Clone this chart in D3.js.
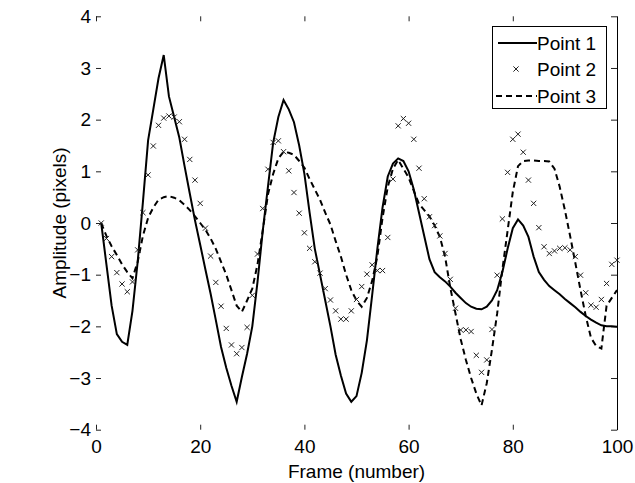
<!DOCTYPE html>
<html>
<head>
<meta charset="utf-8">
<script src="https://cdn.jsdelivr.net/npm/d3@7"></script>
<style>
  body { margin: 0; background: #fff; }
  text { font-family: "Liberation Sans", Arial, Helvetica, sans-serif; }
</style>
</head>
<body>
<svg id="chart" width="635" height="483"></svg>
<script>
// frame numbers and amplitudes (pixels)
const frames = d3.range(1, 101)

const point1 = [
    0, -0.8, -1.6, -2.15, -2.3, -2.36, -1.7, -0.75, 0.4, 1.6,
    2.2, 2.8, 3.25, 2.45, 2.05, 1.65, 1.1, 0.57, 0.05, -0.42,
    -0.9, -1.37, -1.88, -2.4, -2.8, -3.15, -3.46, -2.98, -2.53, -2.0,
    -1.14, -0.16, 0.7, 1.55, 2.05, 2.38, 2.2, 1.95, 1.5, 0.95,
    0.2, -0.5, -1.0, -1.5, -2.0, -2.55, -2.95, -3.3, -3.46, -3.35,
    -2.9, -2.27, -1.4, -0.5, 0.3, 0.9, 1.15, 1.25, 1.2, 1.0,
    0.65, 0.2, -0.25, -0.7, -0.95, -1.05, -1.13, -1.23, -1.35, -1.45,
    -1.55, -1.62, -1.66, -1.67, -1.62, -1.5, -1.3, -0.95, -0.5, -0.1,
    0.07, -0.05, -0.27, -0.65, -0.95, -1.1, -1.22, -1.3, -1.38, -1.47,
    -1.55, -1.63, -1.72, -1.8, -1.87, -1.93, -1.98, -2.0, -2.0, -2.01
]

const point2 = [
    0, -0.3, -0.65, -0.96, -1.18, -1.33, -1.14, -0.52, 0.2, 0.93,
    1.49, 1.89, 2.03, 2.07, 2.05, 1.96, 1.62, 1.23, 0.83, 0.38,
    -0.1, -0.64, -1.15, -1.61, -2.04, -2.36, -2.53, -2.41, -2.02, -1.4,
    -0.6, 0.28, 1.04, 1.56, 1.59, 1.38, 1.01, 0.59, 0.19, -0.19,
    -0.49, -0.75, -0.97, -1.27, -1.49, -1.7, -1.86, -1.86, -1.7, -1.48,
    -1.23, -0.99, -0.81, -0.92, -0.92, -0.28, 0.85, 1.88, 2.02, 1.93,
    1.62, 1.06, 0.47, 0.12, -0.05, -0.25, -0.59, -1.09, -1.65, -2.07,
    -2.07, -2.1, -2.56, -2.89, -2.65, -2.06, -1.01, 0.08, 0.98, 1.62,
    1.72, 1.37, 0.83, 0.38, -0.09, -0.46, -0.59, -0.54, -0.49, -0.48,
    -0.52, -0.65, -1.01, -1.35, -1.59, -1.63, -1.48, -1.17, -0.8, -0.72
]

const point3 = [
    0, -0.25, -0.45, -0.62, -0.8, -0.95, -1.07, -0.75, -0.25, 0.1,
    0.3, 0.45, 0.5, 0.52, 0.49, 0.44, 0.35, 0.25, 0.13, 0.0,
    -0.13, -0.3, -0.5, -0.75, -1.0, -1.3, -1.6, -1.72, -1.5, -1.27,
    -0.8, -0.15, 0.55, 0.95, 1.25, 1.38, 1.36, 1.32, 1.2, 1.07,
    0.85, 0.65, 0.45, 0.2, -0.03, -0.35, -0.65, -1.0, -1.3, -1.5,
    -1.62, -1.45, -1.12, -0.65, 0.1, 0.7, 1.05, 1.22, 1.05, 0.88,
    0.62, 0.37, 0.25, 0.13, -0.05, -0.27, -0.65, -1.25, -1.75, -2.25,
    -2.65, -3.0, -3.3, -3.53, -3.1, -2.45, -1.75, -0.9, -0.15, 0.6,
    1.1, 1.2, 1.21, 1.21, 1.2, 1.2, 1.19, 1.05, 0.7, 0.25,
    -0.25, -0.77, -1.3, -1.8, -2.22, -2.38, -2.43, -1.6, -1.45, -1.3
]

const seriesNames = ['Point 1', 'Point 2', 'Point 3']
const xTicks = [0, 20, 40, 60, 80, 100]
const yTicks = [-4, -3, -2, -1, 0, 1, 2, 3, 4]

const plot = { left: 96, right: 617, top: 16.3, bottom: 429.7 }
const fontSize = '19px'

const svg = d3.select('#chart')

const x = d3.scaleLinear().domain([0, 100]).range([plot.left, plot.right])
const y = d3.scaleLinear().domain([-4, 4]).range([plot.bottom, plot.top])

function toPoints(values) {
    return frames.map(function (f, i) { return { f: f, v: values[i] } })
}

function styleAxis(g) {
    g.selectAll('.tick line').attr('stroke', '#222').attr('stroke-width', 1)
    g.selectAll('.tick text')
        .attr('fill', '#000')
        .style('font-size', fontSize)
        .style('font-family', '"Liberation Sans", Arial, sans-serif')
}

// bottom axis with labels, ticks inside
const gx = svg.append('g')
    .attr('transform', 'translate(0,' + plot.bottom + ')')
    .call(d3.axisBottom(x).tickValues(xTicks).tickSizeInner(-5).tickSizeOuter(0).tickPadding(10))
gx.select('.domain').remove()
styleAxis(gx)

// top ticks only
const gxTop = svg.append('g')
    .attr('transform', 'translate(0,' + plot.top + ')')
    .call(d3.axisTop(x).tickValues(xTicks).tickSizeInner(-5).tickSizeOuter(0).tickFormat(''))
gxTop.select('.domain').remove()
styleAxis(gxTop)

// left axis with labels
const gy = svg.append('g')
    .attr('transform', 'translate(' + plot.left + ',0)')
    .call(d3.axisLeft(y).tickValues(yTicks).tickSizeInner(-5).tickSizeOuter(0).tickPadding(5))
gy.select('.domain').remove()
styleAxis(gy)

// right spine
const gyRight = svg.append('g')
    .attr('transform', 'translate(' + plot.right + ',0)')
    .call(d3.axisRight(y).tickValues(yTicks).tickSizeInner(-6).tickSizeOuter(0).tickFormat(''))
gyRight.select('.domain').attr('stroke', '#000').attr('stroke-width', 1)
styleAxis(gyRight)

// axis titles
svg.append('text')
    .attr('x', (plot.left + plot.right) / 2)
    .attr('y', 478)
    .attr('text-anchor', 'middle')
    .style('font-size', fontSize)
    .text('Frame (number)')

svg.append('text')
    .attr('transform', 'translate(66,' + (plot.top + plot.bottom) / 2 + ') rotate(-90)')
    .attr('text-anchor', 'middle')
    .style('font-size', fontSize)
    .text('Amplitude (pixels)')

const line = d3.line()
    .x(function (d) { return x(d.f) })
    .y(function (d) { return y(d.v) })

// Point 3, dashed
svg.append('path')
    .datum(toPoints(point3))
    .attr('fill', 'none')
    .attr('stroke', '#000')
    .attr('stroke-width', 2)
    .attr('stroke-dasharray', '6,4')
    .attr('d', line)

// Point 1, solid
svg.append('path')
    .datum(toPoints(point1))
    .attr('fill', 'none')
    .attr('stroke', '#000')
    .attr('stroke-width', 2)
    .attr('d', line)

// Point 2, x markers
const s = 2.6
svg.append('g')
    .selectAll('path')
    .data(toPoints(point2))
    .join('path')
    .attr('fill', 'none')
    .attr('stroke', '#222')
    .attr('stroke-width', 1)
    .attr('d', function (d) {
        const cx = x(d.f), cy = y(d.v)
        return 'M' + (cx - s) + ',' + (cy - s) + 'L' + (cx + s) + ',' + (cy + s) +
            'M' + (cx - s) + ',' + (cy + s) + 'L' + (cx + s) + ',' + (cy - s)
    })

// legend
const legend = svg.append('g').attr('transform', 'translate(492,26)')
legend.append('rect')
    .attr('x', 0.5).attr('y', 0.5)
    .attr('width', 114).attr('height', 82)
    .attr('fill', '#fff')
    .attr('stroke', '#000')
    .attr('stroke-width', 1)

const rowY = [17, 43, 70]
seriesNames.forEach(function (name, i) {
    const row = legend.append('g').attr('transform', 'translate(0,' + rowY[i] + ')')
    if (i === 0) {
        row.append('line').attr('x1', 6).attr('x2', 45).attr('stroke', '#000').attr('stroke-width', 2)
    } else if (i === 1) {
        row.append('path')
            .attr('d', 'M' + (24 - s) + ',' + (-s) + 'L' + (24 + s) + ',' + s + 'M' + (24 - s) + ',' + s + 'L' + (24 + s) + ',' + (-s))
            .attr('stroke', '#222').attr('fill', 'none').attr('stroke-width', 1)
    } else {
        row.append('line').attr('x1', 4).attr('x2', 45).attr('stroke', '#000')
            .attr('stroke-width', 2).attr('stroke-dasharray', '6,4')
    }
    row.append('text')
        .attr('x', 45)
        .attr('y', 0)
        .attr('dy', '0.35em')
        .style('font-size', fontSize)
        .text(name)
})
</script>
</body>
</html>
